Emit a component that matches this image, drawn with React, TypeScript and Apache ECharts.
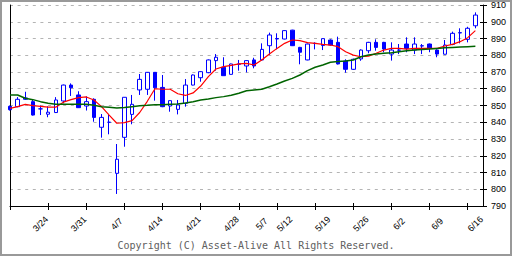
import React, { useEffect, useRef } from "react";
import * as echarts from "echarts";

const dates = [
  "3/17", "3/18", "3/19", "3/21", "3/24", "3/25", "3/26", "3/27", "3/28", "3/31",
  "4/1", "4/2", "4/3", "4/4", "4/7", "4/8", "4/9", "4/10", "4/11", "4/14",
  "4/15", "4/16", "4/17", "4/18", "4/21", "4/22", "4/23", "4/24", "4/25", "4/28",
  "4/30", "5/1", "5/2", "5/7", "5/8", "5/9", "5/12", "5/13", "5/14", "5/15",
  "5/16", "5/19", "5/20", "5/21", "5/22", "5/23", "5/26", "5/27", "5/28", "5/29",
  "5/30", "6/2", "6/3", "6/4", "6/5", "6/6", "6/9", "6/10", "6/11", "6/12",
  "6/13", "6/16", "6/17",
];

const weekLabels = ["3/24", "3/31", "4/7", "4/14", "4/21", "4/28", "5/7", "5/12", "5/19", "5/26", "6/2", "6/9", "6/16"];

const opens = [
  849.5, 849.3, 853.7, 852.3, 848, 844.8, 845.8, 852.7, 862.2, 856.3,
  849.7, 853.7, 837, 840, 809.5, 831, 844.7, 859.3, 859.7, 869.8,
  860.8, 849.7, 847.7, 851.3, 862.2, 866.6, 869.6, 876.8, 872.8, 868.6,
  874.6, 873.6, 877.2, 877.2, 885.7, 889.7, 889.7, 895, 884.7, 877.2,
  887, 885.8, 889.1, 887.7, 876.6, 871.6, 877.8, 882.7, 887.7, 887.7,
  880.7, 883, 886.7, 883.1, 885.5, 886.7, 883.1, 880.6, 886.5, 893.3,
  889.5, 897.6,
];
const closes = [
  847.5, 853.7, 854.5, 844.3, 848, 846, 853.3, 862.2, 860.6, 848.7,
  852.3, 842.9, 842.9, 840, 817.9, 854.9, 850.7, 865.6, 869.8, 860.6,
  849.3, 852.9, 850.3, 862.2, 868.2, 870.2, 877.2, 878.8, 867.8, 874.8,
  874.8, 876.8, 873.6, 883.5, 892.1, 890, 894.7, 885.7, 881.8, 886.7,
  887.1, 889.9, 886.1, 874.8, 871.6, 877.6, 883.1, 887.7, 884.7, 883.7,
  883.1, 883.1, 884.1, 886.7, 885.7, 884.1, 880.7, 886.1, 893.1, 893.5,
  896.1, 904,
];
const lows = [
  847, 849, 853.3, 844, 844.3, 843, 845.5, 851.3, 855.7, 848.5,
  847, 840.3, 830.8, 832.8, 797.2, 825.4, 838.8, 856.3, 856.3, 852.9,
  849, 846.3, 844.7, 849.3, 862, 864.2, 869.3, 870.8, 867.8, 868.5,
  870.8, 869.8, 872.2, 876.8, 880.1, 883.5, 889.5, 885.5, 874.6, 877,
  883.5, 883.1, 885.7, 874.5, 869.6, 871.3, 876.7, 881.2, 882.7, 881.8,
  876.8, 880.7, 881.8, 880.7, 880.7, 881.8, 878.8, 880.5, 886, 887.1,
  887.7, 896.1,
];
const highs = [
  850, 855, 858.2, 853.3, 850, 849.5, 855, 862.5, 863.2, 858.5,
  855.5, 854.3, 844.9, 845, 827, 855, 856.3, 868.8, 870, 870,
  868.2, 853, 853.3, 865.8, 868.5, 870.5, 877.5, 880.7, 878.8, 875,
  877.2, 877, 878.5, 887.1, 893.5, 893.1, 895, 895.2, 885, 887,
  887.7, 890, 889.5, 891.1, 877.6, 878, 883.5, 888, 889.5, 888,
  887.7, 886.7, 890.7, 890.7, 886.7, 887, 883.5, 889.1, 894.1, 896.1,
  897, 905.6,
];

const maShort = [
  848.3, 849.3, 850.7, 849.9, 849.5, 849, 849, 852, 853.5, 854.7,
  855.1, 853.3, 849.3, 844.3, 839.4, 839.8, 841, 845.8, 852.5, 860,
  859.7, 859.7, 857, 856, 857.5, 861.6, 867.2, 871.8, 873.2, 874,
  874.8, 875.2, 874.2, 877.2, 880.7, 884.1, 887.1, 889.1, 888.7, 887.5,
  887.1, 886.5, 886.1, 885.1, 882.1, 880.1, 879.1, 879.5, 881.2, 883.1,
  884.1, 884.1, 883.7, 884.1, 884.1, 884.1, 884.1, 885.5, 886.5, 888.1,
  890.5, 894.7,
];
const maLong = [
  856.3, 856.3, 854.3, 853.5, 852.3, 851.3, 850.7, 850.7, 850.7, 850.7,
  850.7, 850.1, 849.3, 849, 848.5, 848.8, 849.3, 849.8, 850.1, 850.5,
  850.4, 850.7, 850.9, 851.5, 852.3, 853.3, 853.9, 854.7, 855.3, 856.1,
  857.3, 858.8, 859.3, 859.7, 861.2, 862.8, 864.6, 866.2, 868.2, 870.8,
  872.8, 874.2, 875.8, 876.2, 876.6, 877.2, 879.1, 880.1, 880.7, 881.2,
  881.5, 882.1, 882.7, 883.1, 883.5, 883.7, 884.1, 884.5, 884.7, 884.9,
  885.1, 885.3,
];

const yMin = 790;
const yMax = 910;
const yStep = 10;
const tickEvery = 5;
const copyright = "Copyright (C) Asset-Alive All Rights Reserved.";

export default function App() {
  const ref = useRef<HTMLDivElement>(null);

  useEffect(() => {
    if (!ref.current) return;
    const chart = echarts.init(ref.current, undefined, { renderer: "svg" });
    const candles = opens.map((o, i) => [o, closes[i], lows[i], highs[i]]);
    const tickFn = (i: number) => i % tickEvery === 0;
    const labelFn = (_i: number, v: string) => weekLabels.indexOf(v) >= 0;

    chart.setOption({
      animation: false,
      backgroundColor: "#ffffff",
      grid: { left: 10, right: 29, top: 5, bottom: 50, containLabel: false },
      xAxis: [
        {
          type: "category",
          data: dates,
          boundaryGap: false,
          position: "bottom",
          axisLine: { show: true, lineStyle: { color: "#000", width: 1 } },
          axisTick: { show: true, interval: tickFn, length: 4, lineStyle: { color: "#000" } },
          axisLabel: {
            show: true,
            interval: labelFn,
            rotate: 45,
            align: "center",
            verticalAlign: "middle",
            margin: 18,
            fontSize: 9,
            fontFamily: "Liberation Sans",
            color: "#000",
          },
          splitLine: { show: false },
        },
        {
          type: "category",
          data: dates,
          boundaryGap: false,
          position: "bottom",
          axisLine: { show: false },
          axisTick: { show: true, inside: true, interval: tickFn, length: 3, lineStyle: { color: "#000" } },
          axisLabel: { show: false },
          splitLine: { show: false },
        },
      ],
      yAxis: [
        {
          type: "value",
          position: "right",
          min: yMin,
          max: yMax,
          interval: yStep,
          axisLine: { show: true, lineStyle: { color: "#000", width: 1 } },
          axisTick: { show: true, length: 4, lineStyle: { color: "#000" } },
          axisLabel: { color: "#000", fontSize: 9, fontFamily: "Liberation Sans", margin: 8 },
          splitLine: { show: true, lineStyle: { color: "#b4b4b4", type: [3, 4.6], width: 1 } },
        },
        {
          type: "value",
          position: "left",
          min: yMin,
          max: yMax,
          interval: yStep,
          axisLine: { show: true, lineStyle: { color: "#000", width: 1 } },
          axisTick: { show: false },
          axisLabel: { show: false },
          splitLine: { show: false },
        },
        {
          type: "value",
          position: "right",
          min: yMin,
          max: yMax,
          interval: yStep,
          axisLine: { show: false },
          axisTick: { show: true, inside: true, length: 3, lineStyle: { color: "#000" } },
          axisLabel: { show: false },
          splitLine: { show: false },
        },
      ],
      series: [
        {
          type: "candlestick",
          data: candles,
          barWidth: 4,
          clip: false,
          silent: true,
          itemStyle: {
            color: "#ffffff",
            color0: "#0000ff",
            borderColor: "#0000ff",
            borderColor0: "#0000ff",
            borderColorDoji: "#0000ff",
            borderWidth: 1,
          },
          z: 2,
        },
        {
          type: "line",
          data: maShort,
          symbol: "none",
          silent: true,
          lineStyle: { color: "#ff0000", width: 1.2 },
          z: 3,
        },
        {
          type: "line",
          data: maLong,
          symbol: "none",
          silent: true,
          lineStyle: { color: "#006400", width: 1.5 },
          z: 3,
        },
      ],
      graphic: [
        {
          type: "rect",
          shape: { x: 1, y: 1, width: 510, height: 254 },
          style: { fill: "none", stroke: "#999999", lineWidth: 2 },
          silent: true,
        },
        {
          type: "text",
          x: 256,
          y: 245,
          style: {
            text: copyright,
            fontFamily: "DejaVu Sans Mono",
            fontSize: 10,
            fill: "#606060",
            textAlign: "center",
            textVerticalAlign: "middle",
          },
          silent: true,
        },
      ],
    });

    return () => chart.dispose();
  }, []);

  return (
    <div
      ref={ref}
      style={{ position: "fixed", left: 0, top: 0, width: 512, height: 256 }}
    />
  );
}
